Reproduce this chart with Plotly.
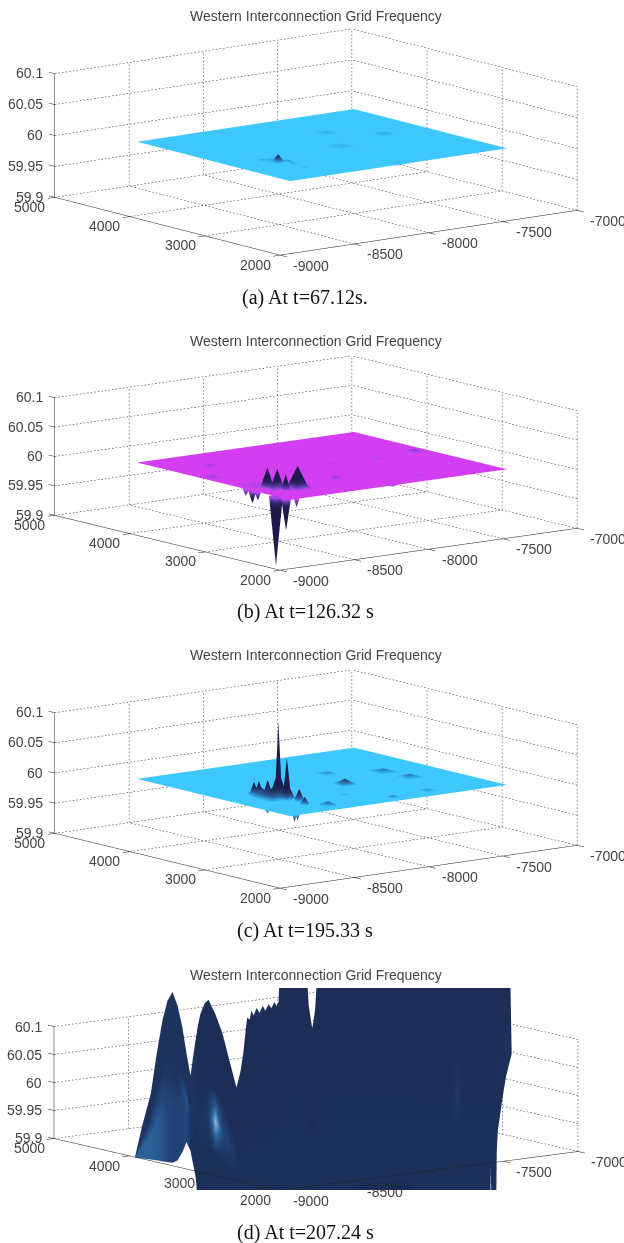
import math
import plotly.graph_objects as go

TITLE = "Western Interconnection Grid Frequency"
CAPTIONS = ["(a) At t=67.12s.", "(b) At t=126.32 s", "(c) At t=195.33 s", "(d) At t=207.24 s"]
X_TICKS = [-9000, -8500, -8000, -7500, -7000]
Y_TICKS = [2000, 3000, 4000, 5000]
Z_TICKS = [59.9, 59.95, 60, 60.05, 60.1]
Z_LABELS = ["59.9", "59.95", "60", "60.05", "60.1"]

# footprint of the measured surface
PLANE_X = [-8755, -7295]
PLANE_Y = [2350, 4390]
PLANE_Z = 60.0

# features: (x, y, deviation from 60 Hz, half width in x)
A_PEAKS = [(-8480, 3100, .0015, 70), (-8495, 3024, .013, 25), (-8531, 3170, .002, 25), (-8439, 3012, .003, 30),
           (-8450, 2918, .002, 20), (-8466, 2724, .0015, 20), (-7805, 3750, .0012, 60), (-7576, 3433, .0012, 60),
           (-7960, 3237, .0012, 70), (-7995, 2427, .001, 50)]
B_PEAKS = [(-8640, 3000, .0025, 90), (-8630, 2800, .014, 60), (-8530, 2695, .02, 55), (-8656, 2851, .036, 26),
           (-8615, 2800, .034, 26), (-8622, 2673, .029, 18), (-8530, 2695, .039, 42), (-8750, 2550, -.118, 25),
           (-8745, 2425, -.055, 18), (-8750, 2863, -.022, 16), (-8750, 2950, -.012, 12), (-8750, 2790, -.015, 12),
           (-8702, 2370, -.015, 10), (-8504, 3917, .004, 40), (-8700, 3491, .004, 45), (-7382, 3414, .005, 50),
           (-8190, 2859, .005, 35), (-7777, 2554, .003, 25), (-8049, 2390, -.004, 25), (-7960, 3386, .002, 40),
           (-7660, 3352, .002, 50), (-8688, 2956, .003, 30)]
C_PEAKS = [(-8500, 3080, .016, 90), (-8520, 3230, .016, 45), (-8465, 3081, .045, 32), (-8476, 2946, .028, 32),
           (-8465, 3081, .124, 13), (-8476, 2946, .069, 16), (-8538, 3261, .022, 18), (-8517, 3237, .023, 18),
           (-8479, 3195, .025, 18), (-8454, 2825, .02, 20), (-8495, 2671, .013, 20), (-7975, 3162, .01, 45),
           (-7861, 3629, .003, 50), (-8400, 2546, .006, 40), (-8154, 2816, .002, 25), (-7586, 3424, .005, 60),
           (-7567, 3107, .005, 55), (-7991, 2489, .004, 30), (-7730, 2548, .003, 40), (-8740, 2683, -.006, 10),
           (-8711, 2380, -.012, 8), (-8690, 2380, -.01, 8)]

# panel (d): section through the blown-up surface
D_X = [-8770, -8741, -8707, -8685, -8661, -8641, -8621, -8601, -8582, -8566, -8550, -8530, -8520, -8510, -8494, -8478,
       -8450, -8422, -8395, -8367, -8351, -8339, -8331, -8325, -8315, -8307, -8299, -8287, -8275, -8263, -8252, -8240,
       -8228, -8216, -8208, -8200, -8192, -8092, -8080, -8066, -8055, -8041, -7512, -7488, -7464, -7361, -7357, -7353,
       -7337, -7333, -7329, -7309, -7297, -7281, -7274]
D_Y = [4380, 4340, 4294, 4264, 4231, 4204, 4177, 4150, 4123, 4101, 4079, 4052, 4039, 4025, 4003, 3982,
       3944, 3906, 3868, 3830, 3808, 3792, 3781, 3772, 3759, 3748, 3737, 3721, 3705, 3689, 3672, 3656,
       3640, 3623, 3613, 3602, 3591, 3455, 3439, 3419, 3404, 3385, 2663, 2630, 2598, 2457, 2451, 2446,
       2424, 2419, 2413, 2386, 2370, 2348, 2338]
D_TOP = [59.878, 59.935, 59.992, 60.06, 60.123, 60.158, 60.174, 60.15, 60.111, 60.066, 60.025, 60.088, 60.115, 60.136,
         60.154, 60.161, 60.135, 60.101, 60.053, 60.005, 60.034, 60.07, 60.105, 60.13, 60.127, 60.143, 60.134, 60.148,
         60.139, 60.152, 60.143, 60.155, 60.148, 60.159, 60.152, 60.159, 60.25, 60.25, 60.154, 60.113, 60.145, 60.25,
         60.25, 60.25, 60.25, 60.25, 60.25, 60.25, 60.25, 60.25, 60.25, 60.25, 60.25, 60.25, 60.073]
D_BOT = [59.877, 59.876, 59.874, 59.873, 59.871, 59.87, 59.869, 59.873, 59.888, 59.906, 59.891, 59.846, 59.801, 59.75,
         59.75, 59.75, 59.75, 59.75, 59.75, 59.75, 59.75, 59.75, 59.75, 59.75, 59.75, 59.75, 59.75, 59.75, 59.75, 59.75,
         59.75, 59.75, 59.75, 59.75, 59.75, 59.75, 59.75, 59.75, 59.75, 59.75, 59.75, 59.75, 59.75, 59.75, 59.75, 59.75,
         59.868, 59.75, 59.75, 59.9, 59.936, 59.999, 60.031, 60.061, 60.073]
D_TONE_TOP = [.08] * 12 + [.03] * 43
D_TONE_MID = [.28, .3, .32, .3, .25, .15, .12, .1, .25, .4, .1, .1, .08, .1, .1, .15, .85, .3, .2, .08] + [.03] * 22 + \
             [.03, .14, .03] + [.03] * 10
D_TONE_BOT = [.45, .45, .45, .42, .38, .3, .25, .25, .25, .3, .1] + [.05] * 44
D_ROW_FRACTION = [0, .35, .5, .65, 1]

# screen layout of each panel: pixel length of the x, y and z box edges
PANELS = [
    dict(vx=(298, 45), vy=(226, 58), vz=124, top=16.5, h=250, zoom=3.19, peaks=A_PEAKS, base="#3fc8ff"),
    dict(vx=(298, 42), vy=(226, 55), vz=118, top=337.5, h=250, zoom=3.19, peaks=B_PEAKS, base="#d43ef2"),
    dict(vx=(298, 43), vy=(226, 55), vz=121, top=653.5, h=250, zoom=3.19, peaks=C_PEAKS, base="#3fc8ff"),
    dict(vx=(298, 39), vy=(226, 52), vz=112, top=988, h=202, zoom=3.96, peaks=None, base=None),
]
TITLE_Y = [16, 341, 655, 975]
CAPTION_Y = [297, 611, 930, 1232]

W, H = 624, 1243
XR, YR, ZR = [-9100, -6900], [1800, 5200], [59.7, 60.3]
INK = "#444444"
EYE_R = 6.0


def scale_colors(base):
    if base == "#d43ef2":
        return [[0, base], [.12, "#a848e8"], [.3, "#5c3aa8"], [.6, "#2a2060"], [1, "#1f1a4c"]]
    return [[0, base], [.08, "#2fa8e6"], [.3, "#2a5c98"], [.6, "#22305e"], [1, "#1c1c4e"]]


def peak_mesh(peaks, base):
    xs = [PLANE_X[0], PLANE_X[1], PLANE_X[1], PLANE_X[0]]
    ys = [PLANE_Y[0], PLANE_Y[0], PLANE_Y[1], PLANE_Y[1]]
    zs = [PLANE_Z] * 4
    val = [0] * 4
    i, j, k = [0, 0], [1, 2], [2, 3]
    for (px, py, dev, w) in peaks:
        n = len(xs)
        wy = 1.7 * w
        xs += [px, px - w, px + w, px + w, px - w]
        ys += [py, py - wy, py - wy, py + wy, py + wy]
        zs += [PLANE_Z + dev] + [PLANE_Z] * 4
        val += [abs(dev), 0, 0, 0, 0]
        for a in range(4):
            i.append(n)
            j.append(n + 1 + a)
            k.append(n + 1 + (a + 1) % 4)
    return go.Mesh3d(x=xs, y=ys, z=zs, i=i, j=j, k=k, intensity=val, cmin=0, cmax=.02,
                     colorscale=scale_colors(base), showscale=False, hoverinfo="skip", flatshading=False,
                     lighting=dict(ambient=1, diffuse=0, specular=0, roughness=1, fresnel=0))


def section_surface():
    rows = [[t + (b - t) * f for t, b in zip(D_TOP, D_BOT)] for f in D_ROW_FRACTION]
    tones = [D_TONE_TOP, D_TONE_TOP, D_TONE_MID, D_TONE_BOT, D_TONE_BOT]
    return go.Surface(x=[D_X] * 5, y=[D_Y] * 5, z=rows, surfacecolor=tones, cmin=0, cmax=1,
                      colorscale=[[0, "#1b2c52"], [.3, "#23477c"], [.5, "#2c6aa2"], [1, "#b8def2"]],
                      showscale=False, hoverinfo="skip",
                      lighting=dict(ambient=1, diffuse=0, specular=0, roughness=1, fresnel=0))


def seg_lines(segs, scene, color, width=1):
    xs, ys, zs = [], [], []
    for a, b in segs:
        xs += [a[0], b[0], None]
        ys += [a[1], b[1], None]
        zs += [a[2], b[2], None]
    return go.Scatter3d(x=xs, y=ys, z=zs, mode="lines", scene=scene, hoverinfo="skip", showlegend=False,
                        line=dict(color=color, width=width))


def dotted(segs, p):
    tx, ux = p["vx"]
    ty, uy = p["vy"]
    out = []
    for a, b in segs:
        dx, dy, dz = b[0] - a[0], b[1] - a[1], b[2] - a[2]
        sx = dx * tx / 2000 - dy * ty / 3000
        sy = dx * ux / 2000 + dy * uy / 3000 + dz * p["vz"] / .2
        n = max(1, int(math.hypot(sx, sy) / 3.6))
        for q in range(n):
            f0, f1 = q / n, (q + .45) / n
            out.append(((a[0] + dx * f0, a[1] + dy * f0, a[2] + dz * f0),
                        (a[0] + dx * f1, a[1] + dy * f1, a[2] + dz * f1)))
    return out


fig = go.Figure()
x0, x1 = X_TICKS[0], X_TICKS[-1]
y0, y1 = Y_TICKS[0], Y_TICKS[-1]
z0, z1 = Z_TICKS[0], Z_TICKS[-1]

for n, p in enumerate(PANELS):
    scene = "scene" if n == 0 else f"scene{n + 1}"
    tx, ux = p["vx"]
    ty, uy = p["vy"]
    sin_el = math.sqrt((ux / tx) * (uy / ty))
    az = math.atan(math.sqrt((uy / ty) / (ux / tx)))
    el = math.asin(sin_el)
    px_x = tx / math.sin(az) / (x1 - x0)
    px_y = ty / math.cos(az) / (y1 - y0)
    px_z = p["vz"] / math.cos(el) / (z1 - z0)
    am = p["zoom"] / 400
    aspect = dict(x=am * px_x * (XR[1] - XR[0]), y=am * px_y * (YR[1] - YR[0]), z=am * px_z * (ZR[1] - ZR[0]))
    eye = dict(x=-EYE_R * math.cos(el) * math.cos(az), y=-EYE_R * math.cos(el) * math.sin(az), z=EYE_R * math.sin(el))

    surf = peak_mesh(p["peaks"], p["base"]) if p["peaks"] else section_surface()
    surf.update(scene=scene)
    fig.add_trace(surf)

    grid = []
    for x in X_TICKS:
        grid.append(((x, y1, z0), (x, y1, z1)))
        if p["peaks"] or x == x1:
            grid.append(((x, y0, z0), (x, y1, z0)))
    for y in Y_TICKS:
        grid.append(((x1, y, z0), (x1, y, z1)))
        if p["peaks"] or y == y1:
            grid.append(((x0, y, z0), (x1, y, z0)))
    for z in Z_TICKS:
        grid.append(((x0, y1, z), (x1, y1, z)))
        grid.append(((x1, y0, z), (x1, y1, z)))
    fig.add_trace(seg_lines(dotted(grid, p), scene, "#222222"))

    axes = [((x0, y1, z0), (x0, y1, z1)), ((x0, y1, z0), (x0, y0, z0)), ((x0, y0, z0), (x1, y0, z0))]
    axes += [((x, y0, z0), (x, y0 - 90, z0)) for x in X_TICKS]
    axes += [((x0, y, z0), (x0 - 48, y, z0)) for y in Y_TICKS]
    axes += [((x0, y1, z), (x0, y1 + 80, z)) for z in Z_TICKS]
    fig.add_trace(seg_lines(axes, scene, "#222222"))

    font = dict(family="Liberation Sans", size=14, color=INK)
    ann = []
    for v, lab in zip(Z_TICKS, Z_LABELS):
        ann.append(dict(x=x0, y=y1, z=v, text=lab, showarrow=False, xanchor="right", xshift=-10, font=font))
    for v in X_TICKS:
        if p["peaks"] is None and v == -8000:
            continue  # hidden behind the surface in panel (d)
        ann.append(dict(x=v, y=y0, z=z0, text=str(v), showarrow=False, xshift=31, yshift=-11, font=font))
    for v in Y_TICKS:
        ann.append(dict(x=x0, y=v, z=z0, text=str(v), showarrow=False, xshift=-25, yshift=-10, font=font))

    axis = dict(visible=False, showspikes=False)
    fig.update_layout(**{scene: dict(
        domain=dict(x=[16 / W, 616 / W], y=[1 - (p["top"] + p["h"]) / H, 1 - p["top"] / H]),
        xaxis=dict(range=XR, autorange=False, **axis),
        yaxis=dict(range=YR, autorange=False, **axis),
        zaxis=dict(range=ZR, autorange=False, **axis),
        aspectmode="manual", aspectratio=aspect,
        camera=dict(eye=eye, up=dict(x=0, y=0, z=1), center=dict(x=0, y=0, z=0),
                    projection=dict(type="orthographic")),
        annotations=ann,
        bgcolor="rgba(0,0,0,0)",
    )})

notes = []
for t_y, c_y, cap in zip(TITLE_Y, CAPTION_Y, CAPTIONS):
    notes.append(dict(x=316 / W, y=1 - t_y / H, xref="paper", yref="paper", text=TITLE, showarrow=False,
                      yanchor="middle", font=dict(family="Liberation Sans", size=14, color=INK)))
    notes.append(dict(x=305 / W, y=1 - c_y / H, xref="paper", yref="paper", text=cap, showarrow=False,
                      yanchor="middle", font=dict(family="Liberation Serif", size=20, color="#111111")))
# the surface of panel (d) overlaps the upper half of the -8500 label
notes.append(dict(x=386 / W, y=1 - 1186 / H, xref="paper", yref="paper", text=" ", showarrow=False, yanchor="middle",
                  width=52, height=6, bgcolor="#1b2c52", borderpad=0, font=dict(size=1)))

fig.update_layout(width=W, height=H, autosize=False, margin=dict(l=0, r=0, t=0, b=0), paper_bgcolor="white",
                  showlegend=False, hovermode=False, annotations=notes)
fig.write_html("out.html", config=dict(displayModeBar=False), post_script="document.body.style.margin='0';")
